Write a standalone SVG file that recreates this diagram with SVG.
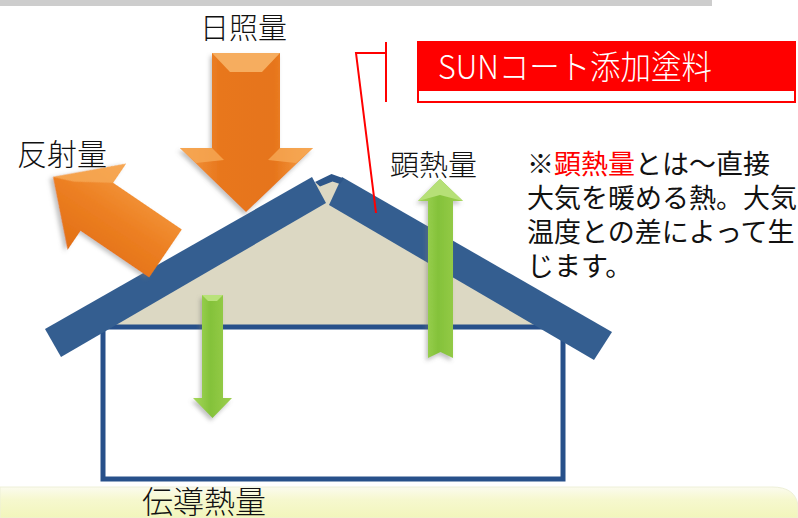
<svg xmlns="http://www.w3.org/2000/svg" width="798" height="518" viewBox="0 0 798 518">
  <defs>
    <style>
      .jp { font-family: "Noto Sans CJK JP", "DejaVu Sans", sans-serif; fill: #111; font-weight: 300; }
      .note { font-family: "Noto Sans CJK JP", "DejaVu Sans", sans-serif; fill: #111; font-weight: 400; font-size: 27px; }
      .roof { fill: #345e90; }
      .wall { fill: #ffffff; stroke: #27508a; stroke-width: 5; }
      .leader { fill: none; stroke: #ff0000; stroke-width: 2; }
    </style>
    <linearGradient id="orangeV" x1="0" y1="0" x2="1" y2="0">
      <stop offset="0" stop-color="#f49a42"/>
      <stop offset="0.3" stop-color="#e8771d"/>
      <stop offset="0.7" stop-color="#e6741a"/>
      <stop offset="1" stop-color="#f7a248"/>
    </linearGradient>
    <linearGradient id="orangeR" x1="0" y1="0" x2="0" y2="1">
      <stop offset="0" stop-color="#f59a40"/>
      <stop offset="0.5" stop-color="#ec7f22"/>
      <stop offset="1" stop-color="#e26f14"/>
    </linearGradient>
    <linearGradient id="green" x1="0" y1="0" x2="1" y2="0">
      <stop offset="0" stop-color="#a6d85c"/>
      <stop offset="0.45" stop-color="#84c23a"/>
      <stop offset="1" stop-color="#9ccf4e"/>
    </linearGradient>
    <linearGradient id="floor" x1="0" y1="0" x2="0" y2="1">
      <stop offset="0" stop-color="#fbfbee"/>
      <stop offset="0.4" stop-color="#f6f8cf"/>
      <stop offset="1" stop-color="#f2f6bb"/>
    </linearGradient>
    <filter id="shade" x="-20%" y="-20%" width="140%" height="140%">
      <feDropShadow dx="-2" dy="3" stdDeviation="2" flood-color="#777" flood-opacity="0.45"/>
    </filter>
  </defs>

  <!-- top strip and floor band -->
  <rect x="0" y="0" width="712" height="6" fill="#cdcdcd"/>
  <path d="M0 487 H772 Q796 487 798 506 V518 H0 Z" fill="url(#floor)" stroke="#eef0d8" stroke-width="1"/>

  <!-- attic fill -->
  <g id="attic">
    <polygon points="100,327 314,184 331,178 346,184 562,327" fill="#dcd8c3"/>
  </g>

  <!-- house body -->
  <g id="house">
    <rect class="wall" x="103" y="327" width="460" height="152"/>
  </g>

  <!-- roof -->
  <g id="roof">
    <polygon class="roof" points="45,329 312,177 326,203 61,357"/>
    <polygon class="roof" points="342,177 612,332 594,360 329,205"/>
    <polygon points="315,182 331.5,174 344,178.5 340,184 332.5,181.5 320,186.5" fill="#2d5689"/>
  </g>

  <!-- conducted heat (down, into the house) -->
  <g id="arrow-conducted" filter="url(#shade)">
    <polygon points="202,295 223,295 223,398 232,398 212.5,418 193,398 202,398" fill="url(#green)"/>
    <polygon points="202,295 223,295 217,301 208,301" fill="#b9e27a"/>
  </g>

  <!-- sensible heat (up, out of the roof) -->
  <g id="arrow-sensible" filter="url(#shade)">
    <polygon points="440,179 463,201 453,201 453,358 440.5,352 428,358 428,201 418,201" fill="url(#green)"/>
    <polygon points="440,179 463,201 440,195 418,201" fill="#b6e077"/>
  </g>

  <!-- solar radiation -->
  <g id="arrow-solar" filter="url(#shade)">
    <polygon points="212,53 280,53 280,148 313,148 246,212 180,148 212,148" fill="url(#orangeV)"/>
    <polygon points="212,53 280,53 262,72 230,72" fill="#f6ad5e"/>
    <polygon points="180,148 212,148 224,160 196,163" fill="#f6a956" opacity="0.8"/>
    <polygon points="313,148 280,148 268,160 296,163" fill="#f6a956" opacity="0.8"/>
  </g>

  <!-- reflected radiation -->
  <g id="arrow-reflected" filter="url(#shade)" transform="translate(53,177) rotate(34.2)">
    <polygon points="0,0 53,-52 53,-29 136,-29 136,29 53,29 53,52" fill="url(#orangeR)"/>
    <polygon points="0,0 53,-52 53,-29 20,-8" fill="#f6aa58" opacity="0.8"/>
  </g>

  <!-- coating label -->
  <g id="label-coating">
    <rect x="418" y="42" width="377" height="60" fill="#ffffff" stroke="#ff0000" stroke-width="2"/>
    <rect x="418" y="42" width="377" height="49" fill="#ff0000"/>
    <text x="438" y="79" font-size="33" textLength="274" lengthAdjust="spacingAndGlyphs" font-family="&quot;Noto Sans CJK JP&quot;, &quot;Liberation Sans&quot;, sans-serif" font-weight="300" fill="#ffffff">SUNコート添加塗料</text>
  </g>

  <!-- connectors -->
  <g id="connectors">
    <polyline class="leader" points="386,42 386,102"/>
    <polyline class="leader" points="386,53 356,53 376,213"/>
  </g>

  <!-- labels -->
  <g id="label-solar"><text class="jp" x="200" y="39" font-size="29">日照量</text></g>
  <g id="label-reflected"><text class="jp" x="17" y="165" font-size="30">反射量</text></g>
  <g id="label-sensible"><text class="jp" x="390" y="176" font-size="29">顕熱量</text></g>
  <g id="label-conducted"><text class="jp" x="142" y="513" font-size="31">伝導熱量</text></g>

  <!-- explanatory note, one text block -->
  <g id="note">
    <text class="note"><tspan x="527" y="174">※<tspan fill="#ff0000">顕熱量</tspan>とは～直接</tspan><tspan x="527" y="208">大気を暖める熱。大気</tspan><tspan x="527" y="242">温度との差によって生</tspan><tspan x="527" y="276">じます。</tspan></text>
  </g>
</svg>
